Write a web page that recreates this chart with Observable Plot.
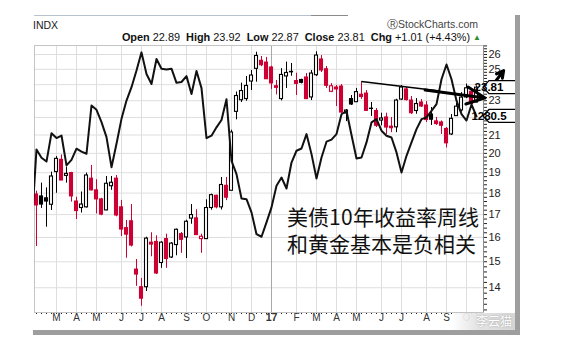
<!DOCTYPE html>
<html><head><meta charset="utf-8">
<script src="https://cdn.jsdelivr.net/npm/d3@7"></script>
<script src="https://cdn.jsdelivr.net/npm/@observablehq/plot@0.6"></script>
<style>
@font-face{font-family:"CJKTight";src:local("Noto Sans CJK SC"),local("Noto Sans CJK SC Regular"),local("NotoSansCJKsc-Regular");ascent-override:88%;descent-override:12%;line-gap-override:0%;}
body{margin:0;background:#fff;}
#wrap{position:relative;width:588px;height:361px;overflow:hidden;background:#fff;font-family:"Liberation Sans",Arial,sans-serif;}
#wrap svg{position:absolute;left:0;top:0;}
.abs{position:absolute;white-space:nowrap;}
</style></head><body><div id="wrap"></div>
<script>
// ---------- data ----------
const symbol = "INDX";
const firstWeek = "2016-02-08"; // weekly bars (Mondays)
const open  = [17.93,17.84,17.75,17.45,19.03,19.66,18.84,18.98,17.60,17.30,17.33,18.70,18.13,17.70,17.19,18.33,18.70,17.33,16.40,16.70,14.69,14.02,14.02,15.78,15.81,14.95,15.93,15.17,15.68,16.14,16.00,16.82,16.83,15.93,15.93,17.30,17.87,17.33,18.35,18.11,22.33,23.03,23.10,24.20,25.03,25.57,25.45,25.12,23.90,23.10,24.53,24.80,24.23,24.30,24.46,23.20,24.61,25.66,25.00,23.55,23.82,23.88,22.23,23.10,22.91,23.37,23.44,22.50,22.38,21.82,22.00,21.47,21.43,23.07,23.70,23.01,22.38,22.89,22.71,22.17,21.77,21.71,21.34,21.03,22.08,22.41,23.20,23.55,22.89];
const high  = [18.09,18.48,18.25,19.03,19.83,19.92,19.28,19.02,17.80,18.05,18.98,19.37,18.65,17.75,18.81,18.81,18.86,17.65,16.74,17.46,15.09,14.35,16.01,16.20,16.07,15.82,16.14,15.78,16.36,16.21,16.75,17.46,17.22,16.14,17.68,17.95,17.90,18.76,18.76,21.27,23.54,24.10,24.53,24.92,26.16,25.86,25.80,25.20,24.27,25.04,25.48,25.39,24.74,24.35,24.72,24.92,26.19,25.93,25.19,24.07,23.95,24.01,22.47,23.32,23.76,24.20,23.63,22.89,22.53,22.25,22.25,22.00,23.09,23.95,23.82,23.26,23.13,23.07,22.95,22.59,22.00,21.80,21.42,22.17,22.83,23.50,24.04,23.70,23.92];
const low   = [15.62,17.28,16.44,17.19,17.99,18.61,18.48,17.57,16.78,17.07,17.30,18.10,17.03,16.95,17.17,18.13,16.90,16.04,15.14,15.60,14.05,13.33,13.86,15.20,14.50,14.74,14.74,15.13,15.24,15.34,15.13,16.57,16.09,15.34,15.92,17.20,17.26,17.21,17.64,18.11,21.86,22.89,22.97,23.63,24.16,25.17,24.33,23.70,23.36,22.99,23.76,24.54,23.32,24.05,23.07,23.01,24.53,24.79,23.76,23.50,22.65,22.23,21.76,22.71,22.89,23.08,22.35,22.06,21.42,21.52,21.03,21.13,21.13,23.01,22.98,22.17,22.19,22.59,21.71,21.54,21.54,21.03,20.29,20.97,22.06,22.31,23.13,22.65,22.87];
const close = [17.42,17.46,17.60,18.81,19.71,18.61,18.94,17.84,17.16,17.46,18.86,18.13,17.70,17.00,18.45,18.50,16.96,16.34,16.12,15.66,14.50,13.60,15.95,15.70,14.54,15.78,15.11,15.74,16.33,15.90,16.68,16.98,16.10,16.03,17.30,17.90,17.33,18.39,17.78,21.14,23.29,23.60,23.92,24.59,25.90,25.27,24.35,24.08,23.80,24.63,24.76,24.83,24.05,24.12,23.10,24.72,25.93,24.92,23.93,23.90,23.70,22.29,22.41,22.77,23.53,23.23,22.39,22.52,21.52,21.94,21.42,21.38,23.01,23.82,23.04,22.25,22.80,22.65,21.85,21.87,21.62,21.52,20.54,21.92,22.64,23.19,23.77,22.80,23.81];
// overlay line (gold, weekly) drawn in the price-axis units, starting one week before firstWeek
const goldOverlay = [16.34,20.21,19.77,19.57,21.10,20.83,20.97,19.37,19.66,20.25,20.09,19.98,22.71,22.45,21.73,20.88,19.28,20.52,21.92,23.01,23.84,24.92,26.15,24.69,24.04,25.69,25.04,24.99,25.04,24.12,24.17,24.55,23.41,24.89,23.78,20.82,20.96,21.43,21.85,23.09,19.61,18.93,17.74,17.71,17.10,16.14,16.03,16.65,17.33,18.35,18.76,18.22,19.52,20.14,20.26,21.05,19.96,18.71,19.78,20.63,20.74,21.05,22.19,22.38,21.00,19.73,19.78,20.59,21.71,21.90,21.24,20.96,20.86,20.05,19.01,19.87,20.59,21.33,21.90,22.00,22.39,22.79,24.35,25.32,24.35,23.00,22.19,21.82,22.77,22.06];
const goldLastLabel = "1280.5";
const yLabels = [14,15,16,17,18,19,20,21,22,23,24,25,26];
const yHidden = [22,24];
const annotationLines = ["美债10年收益率周线","和黄金基本是负相关"];
const trendThin  = [{x1:"2017-05-08", y1:24.20, x2:"2017-08-26", y2:23.60}];
const trendArrow = [{x1:"2017-08-05", y1:23.66, x2:"2017-10-28", y2:23.17}];
const upArrow    = [{x1:"2017-11-03", y1:23.69, x2:"2017-11-23", y2:24.92}];

// ---------- build ----------
const RED = "#cc0033";
const DAY = 864e5;
const start = new Date(firstWeek);
const dates = open.map((_, i) => d3.utcWeek.offset(start, i));
const candles = dates.map((date, i) => {
  const prev = i ? close[i-1] : open[0];
  return {date, o: open[i], h: high[i], l: low[i], c: close[i],
    color: close[i] < prev ? RED : "#000", hollow: close[i] > open[i]};
});
const goldData = goldOverlay.map((v, i) => ({date: d3.utcWeek.offset(start, i - 1), v}));
const monthTicks = dates.filter((d, i) => i > 0 && d.getUTCMonth() !== dates[i-1].getUTCMonth());
const janTicks = monthTicks.filter(d => d.getUTCMonth() === 0);
const otherTicks = monthTicks.filter(d => d.getUTCMonth() !== 0);
const monthLetter = d => "JFMAMJJASOND"[d.getUTCMonth()];
const toDates = arr => arr.map(a => ({...a, x1: new Date(a.x1), x2: new Date(a.x2)}));

const xDomain = [new Date(Date.UTC(2016,1,5,5)), new Date(Date.UTC(2017,9,25,19))];
const yDomain = [13.11, 26.63];
const minorY = d3.range(132, 267, 2).map(v => v / 10);
const fmtY = d => {
  const r = Math.round(d);
  if (Math.abs(d - r) > 1e-6) return "";
  return yHidden.includes(r) ? "" : String(r);
};

const chart = Plot.plot({
  width: 588, height: 361,
  marginTop: 45, marginRight: 105, marginBottom: 49, marginLeft: 34,
  style: {fontFamily: "Liberation Sans, Arial, sans-serif", fontSize: "11px", color: "#222", background: "transparent", overflow: "visible"},
  color: {type: "identity"},
  x: {type: "utc", domain: xDomain, axis: "bottom", ticks: dates, tickFormat: () => "", tickSize: 2, label: null},
  y: {type: "log", domain: yDomain, axis: "right", ticks: minorY, tickFormat: fmtY, tickSize: 3, tickPadding: 2, label: null},
  marks: [
    Plot.ruleY(yLabels, {stroke: "#dedede"}),
    Plot.ruleX(otherTicks, {stroke: "#dedede"}),
    Plot.ruleX(janTicks, {stroke: "#a8a8a8"}),
    Plot.frame({stroke: "#c4c4c4"}),
    Plot.ruleX([xDomain[1]], {stroke: "#8a8a8a"}),
    Plot.ruleX(candles, {x: "date", y1: "l", y2: "h", stroke: "color", strokeWidth: 1}),
    Plot.rect(candles, {
      x1: d => new Date(+d.date - 3.5 * DAY), x2: d => new Date(+d.date + 3.5 * DAY),
      y1: "o", y2: "c", insetLeft: 1, insetRight: 1,
      fill: d => d.hollow ? "#fff" : d.color, stroke: "color", strokeWidth: 1.1
    }),
    Plot.line(goldData, {x: "date", y: "v", stroke: "#111", strokeWidth: 2, strokeLinejoin: "round", clip: true}),
    Plot.text(otherTicks, {x: d => d, frameAnchor: "bottom", dy: 8, text: monthLetter, fontSize: 10, fill: "#333"}),
    Plot.text(janTicks, {x: d => d, frameAnchor: "bottom", dy: 8, text: d => d3.utcFormat("%y")(d), fontSize: 10.5, fontWeight: "bold", fill: "#333"}),
    Plot.link(toDates(trendThin), {x1: "x1", y1: "y1", x2: "x2", y2: "y2", stroke: "#000", strokeWidth: 1.6}),
    Plot.arrow(toDates(trendArrow), {x1: "x1", y1: "y1", x2: "x2", y2: "y2", stroke: "#000", strokeWidth: 3, headLength: 13, headAngle: 50}),
    Plot.arrow(toDates(upArrow), {x1: "x1", y1: "y1", x2: "x2", y2: "y2", stroke: "#000", strokeWidth: 3, headLength: 10, headAngle: 55})
  ]
});

const wrap = document.getElementById("wrap");
wrap.appendChild(chart);

// value boxes on the right axis, positioned through the scales
const svg = d3.select(chart);
const ys = chart.scale("y"), xs = chart.scale("x");
const xr = xs.apply(xDomain[1]);
function valueBox(v, label) {
  const cy = ys.apply(v);
  const g = svg.append("g");
  g.append("path")
    .attr("d", `M${xr},${cy} L${xr+6},${cy-6.5} H${xr+34} V${cy+6.5} H${xr+6} Z`)
    .attr("fill", "#fff").attr("stroke", "#000").attr("stroke-width", 1.3);
  g.append("text").attr("x", xr + 6).attr("y", cy).attr("dy", "0.36em")
    .attr("font-weight", "bold").attr("font-size", 11.5).attr("fill", "#000").text(label);
}
valueBox(close[close.length-1], close[close.length-1].toFixed(2));
valueBox(goldOverlay[goldOverlay.length-1], goldLastLabel);

// header / overlays
const last = candles[candles.length-1];
const chg = last.c - candles[candles.length-2].c;
const pct = chg / candles[candles.length-2].c * 100;
function addDiv(html, css) {
  const d = document.createElement("div");
  d.className = "abs"; d.innerHTML = html; d.style.cssText += css;
  wrap.appendChild(d); return d;
}
addDiv("", "left:34px;top:15px;width:277px;height:1px;background:#b8c2cc;");
addDiv("", "left:311px;top:15px;width:37px;height:1px;background:#8a8a8a;");
addDiv(symbol, "left:33px;top:19px;font-size:10.5px;color:#222;");
addDiv("&#9415;StockCharts.com", "right:110px;top:18px;font-size:10.5px;color:#444;");
addDiv(`<b>Open</b> ${last.o.toFixed(2)}&nbsp; <b>High</b> ${last.h.toFixed(2)}&nbsp; <b>Low</b> ${last.l.toFixed(2)}&nbsp; <b>Close</b> ${last.c.toFixed(2)}&nbsp; <b>Chg</b> +${chg.toFixed(2)} (+${pct.toFixed(2)}%) <span style="color:#2f8f2f;font-size:8px;vertical-align:1px">&#9650;</span>`,
  "right:107px;top:31px;font-size:10.9px;color:#111;");
addDiv(annotationLines[0], "left:287px;top:206px;font-size:21px;line-height:23px;color:#111;font-family:'CJKTight','Noto Sans CJK SC',sans-serif;");
addDiv(annotationLines[1], "left:287px;top:233px;font-size:21px;line-height:23px;color:#111;font-family:'CJKTight','Noto Sans CJK SC',sans-serif;");
// watermark patch
addDiv("李云猫", "left:452px;top:313px;width:63px;height:17px;padding-left:24px;box-sizing:border-box;font-size:12px;line-height:17px;color:#fff;text-shadow:0 0 2px #999;background:linear-gradient(90deg,rgba(255,255,255,0.95),rgba(225,225,225,0.9) 40%,#d6d6d6);font-family:'CJKTight','Noto Sans CJK SC',sans-serif;");
// gray frame bars and right blank
addDiv("", "left:515px;top:15px;width:5px;height:320px;background:#9e9e9e;");
addDiv("", "left:33px;top:330px;width:487px;height:5px;background:#9e9e9e;");
addDiv("", "left:520px;top:0;width:68px;height:361px;background:#fff;");
</script></body></html>
